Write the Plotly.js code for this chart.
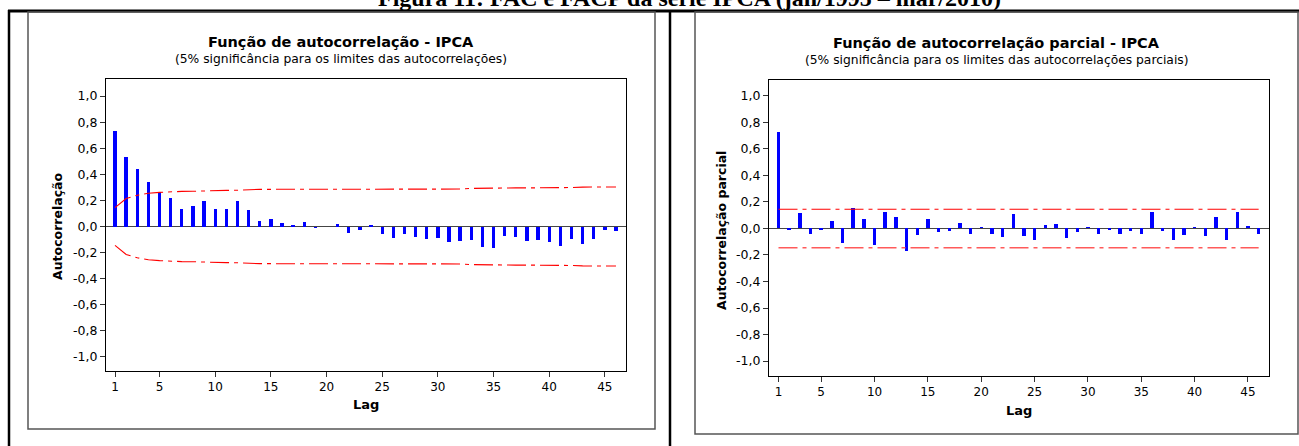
<!DOCTYPE html>
<html>
<head>
<meta charset="utf-8">
<script src="https://cdn.plot.ly/plotly-3.0.1.min.js"></script>
<style>html,body{margin:0;padding:0;background:#fff;}#chart{width:1299px;height:446px;}</style>
</head>
<body>
<div id="chart"></div>
<script>
// ---- Data ----
const lags = [1,2,3,4,5,6,7,8,9,10,11,12,13,14,15,16,17,18,19,20,21,22,23,24,25,26,27,28,29,30,31,32,33,34,35,36,37,38,39,40,41,42,43,44,45,46];

// Autocorrelation function (FAC) of IPCA
const acf = [0.733,0.531,0.441,0.341,0.262,0.221,0.138,0.154,0.195,0.138,0.138,0.195,0.123,0.046,0.054,0.028,0.010,0.038,-0.010,-0.005,0.018,-0.046,-0.028,0.013,
             -0.054,-0.087,-0.054,-0.079,-0.095,-0.087,-0.120,-0.113,-0.103,-0.156,-0.164,-0.072,-0.079,-0.113,-0.105,-0.120,-0.146,-0.095,-0.131,-0.095,-0.028,-0.038];

// 5% significance limits of the autocorrelations (upper; lower is the mirror)
const acfLimit = [0.145,0.215,0.240,0.255,0.262,0.267,0.269,0.270,0.274,0.276,0.277,0.278,0.284,0.285,0.285,0.285,0.285,0.285,0.285,0.285,0.285,0.285,0.285,0.285,
                  0.286,0.286,0.286,0.286,0.286,0.286,0.286,0.287,0.292,0.294,0.296,0.296,0.296,0.296,0.296,0.297,0.298,0.299,0.302,0.303,0.303,0.303];

// Partial autocorrelation function (FACP) of IPCA
const pacf = [0.727,-0.015,0.118,-0.040,-0.013,0.060,-0.113,0.151,0.075,-0.123,0.121,0.086,-0.171,-0.048,0.068,-0.030,-0.020,0.043,-0.040,0.013,-0.038,-0.065,0.111,-0.060,
              -0.088,0.028,0.035,-0.070,-0.030,0.008,-0.038,-0.010,-0.038,-0.020,-0.045,0.121,-0.020,-0.088,-0.048,0.010,-0.055,0.086,-0.088,0.121,0.020,-0.038];

// 5% significance limit of the partial autocorrelations
const pacfLimit = 0.145;

// Tick labels
const xTickVals = [1,5,10,15,20,25,30,35,40,45];
const xTickText = ["1","5","10","15","20","25","30","35","40","45"];
const yTickVals = [-1,-0.8,-0.6,-0.4,-0.2,0,0.2,0.4,0.6,0.8,1];
const yTickText = ["-1,0","-0,8","-0,6","-0,4","-0,2","0,0","0,2","0,4","0,6","0,8","1,0"];

// Texts
const figTitle = "Figura 11: FAC e FACP da série IPCA (jan/1995 – mar/2010)";
const leftTitle = "Função de autocorrelação - IPCA";
const leftSub = "(5% significância para os limites das autocorrelações)";
const rightTitle = "Função de autocorrelação parcial - IPCA";
const rightSub = "(5% significância para os limites das autocorrelações parciais)";
const leftYTitle = "Autocorrelação";
const rightYTitle = "Autocorrelação parcial";
const xTitle = "Lag";

// ---- Layout helpers (pixel -> paper) ----
const W = 1299, H = 446;
const px = x => x / W;
const py = y => 1 - y / H;

const FONT = "DejaVu Sans, Verdana, sans-serif";
const BLUE = "#0000ff";
const RED = "#ff0000";
const DASH = "19px,5px,4px,5px";

const traces = [
  {type:"bar", x:lags, y:acf, xaxis:"x", yaxis:"y", width:0.3, marker:{color:BLUE, line:{width:0}}, hoverinfo:"x+y"},
  {type:"scatter", mode:"lines", x:lags, y:acfLimit, xaxis:"x", yaxis:"y", line:{color:RED, width:1.1, dash:DASH}},
  {type:"scatter", mode:"lines", x:lags, y:acfLimit.map(v => -v), xaxis:"x", yaxis:"y", line:{color:RED, width:1.1, dash:DASH}},
  {type:"bar", x:lags, y:pacf, xaxis:"x2", yaxis:"y2", width:0.32, marker:{color:BLUE, line:{width:0}}, hoverinfo:"x+y"},
  {type:"scatter", mode:"lines", x:lags, y:lags.map(() => pacfLimit), xaxis:"x2", yaxis:"y2", line:{color:RED, width:1.1, dash:DASH}},
  {type:"scatter", mode:"lines", x:lags, y:lags.map(() => -pacfLimit), xaxis:"x2", yaxis:"y2", line:{color:"#ff5a5a", width:1.6, dash:DASH}}
];

function xAxis(domain, range) {
  return {domain, range, tickvals:xTickVals, ticktext:xTickText, ticks:"outside", ticklen:5, tickwidth:1, tickcolor:"#333",
          showline:true, mirror:true, linecolor:"#000", linewidth:1, showgrid:false, zeroline:false,
          tickfont:{family:FONT, size:12, color:"#000"}, fixedrange:true};
}
function yAxis(domain, range, anchor) {
  return {domain, range, anchor, tickvals:yTickVals, ticktext:yTickText, ticks:"outside", ticklen:5, tickwidth:1, tickcolor:"#333",
          showline:true, mirror:true, linecolor:"#000", linewidth:1, showgrid:false,
          zeroline:true, zerolinecolor:"#444", zerolinewidth:1.5,
          tickfont:{family:FONT, size:12.5, color:"#000"}, fixedrange:true};
}

const shapes = [
  // document table borders
  {type:"line", xref:"paper", yref:"paper", x0:px(8), x1:px(1299), y0:py(11), y1:py(11), line:{color:"#000", width:3}},
  {type:"line", xref:"paper", yref:"paper", x0:px(9), x1:px(9), y0:py(10), y1:py(446), line:{color:"#000", width:2.5}},
  {type:"line", xref:"paper", yref:"paper", x0:px(670), x1:px(670), y0:py(10), y1:py(446), line:{color:"#000", width:2.5}},
  // chart frames
  {type:"rect", xref:"paper", yref:"paper", x0:px(28), x1:px(655), y0:py(12), y1:py(429), line:{color:"#555", width:1.5}},
  {type:"rect", xref:"paper", yref:"paper", x0:px(695), x1:px(1298), y0:py(12), y1:py(434), line:{color:"#555", width:1.5}}
];

function ann(text, x, y, size, opts) {
  return Object.assign({xref:"paper", yref:"paper", x:px(x), y:py(y), text, showarrow:false,
    xanchor:"center", yanchor:"middle", font:{family:FONT, size, color:"#000"}}, opts || {});
}

const annotations = [
  ann("<b>" + figTitle + "</b>", 690, 13, 24, {yanchor:"bottom", font:{family:"Liberation Serif, Times New Roman, serif", size:24, color:"#000"}}),
  ann("<b>" + leftTitle + "</b>", 341.5, 42, 14.5),
  ann(leftSub, 341.5, 59, 12.3),
  ann("<b>" + rightTitle + "</b>", 996.5, 43, 14.5),
  ann(rightSub, 996.5, 60, 12.3),
  ann("<b>" + leftYTitle + "</b>", 57, 226, 12.5, {textangle:-90}),
  ann("<b>" + rightYTitle + "</b>", 721, 231, 12.5, {textangle:-90}),
  ann("<b>" + xTitle + "</b>", 366, 404, 13),
  ann("<b>" + xTitle + "</b>", 1019, 410, 13)
];

const layout = {
  width:W, height:H, margin:{l:0, r:0, t:0, b:0}, paper_bgcolor:"#fff", plot_bgcolor:"#fff",
  showlegend:false, bargap:0,
  xaxis: Object.assign(xAxis([px(106), px(626)], [0.19, 46.9]), {anchor:"y"}),
  yaxis: yAxis([1 - 371/H, 1 - 79/H], [-1.108, 1.131], "x"),
  xaxis2: Object.assign(xAxis([px(769), px(1269)], [0.11, 46.97]), {anchor:"y2"}),
  yaxis2: yAxis([1 - 376/H, 1 - 80/H], [-1.113, 1.12], "x2"),
  shapes, annotations,
  font:{family:FONT, color:"#000"}
};

Plotly.newPlot("chart", traces, layout, {displayModeBar:false, staticPlot:true});
</script>
</body>
</html>
